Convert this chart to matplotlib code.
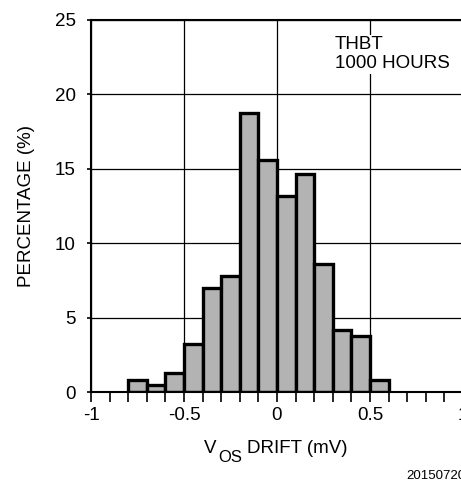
import matplotlib
matplotlib.use("Agg")
import matplotlib.pyplot as plt
import numpy as np

plt.rcParams['font.family'] = ['Liberation Sans', 'DejaVu Sans']

# Histogram bins (mV) and percentages
bin_left = [-0.8, -0.7, -0.6, -0.5, -0.4, -0.3, -0.2, -0.1, 0.0, 0.1, 0.2, 0.3, 0.4, 0.5]
percent = [0.83, 0.5, 1.28, 3.25, 7.02, 7.8, 18.76, 15.56, 13.18, 14.68, 8.59, 4.19, 3.74, 0.83]
bin_width = 0.1

x_ticks = [-1, -0.5, 0, 0.5, 1]
x_tick_labels = ['-1', '-0.5', '0', '0.5', '1']
y_ticks = [0, 5, 10, 15, 20, 25]

W, H = 461, 494
fig = plt.figure(figsize=(W / 100, H / 100), dpi=100)
ax = fig.add_axes([91 / W, 1 - 392 / H, 372 / W, 372 / H])

ax.bar(bin_left, percent, width=bin_width, align='edge',
       color='#b3b3b3', edgecolor='black', linewidth=2.4, zorder=3)

ax.set_xlim(-1, 1)
ax.set_ylim(0, 25)
ax.set_xticks(x_ticks)
ax.set_xticklabels(x_tick_labels)
ax.set_xticks(np.arange(-1, 1.01, 0.1), minor=True)
ax.set_yticks(y_ticks)

ax.grid(True, which='major', color='black', linewidth=0.9, zorder=1)
for s in ax.spines.values():
    s.set_linewidth(1.5)
    s.set_zorder(4)

ax.tick_params(axis='x', which='both', direction='out', length=7, width=1.2,
               labelsize=13.5, pad=4)
ax.tick_params(axis='y', direction='out', length=3, width=1.2,
               labelsize=13.5, pad=8)

ax.set_ylabel('PERCENTAGE (%)', fontsize=13.5, labelpad=14)

# x label with a near full-size, lowered "OS" subscript
fs = 13.5
fig.text(204 / W, 1 - 453 / H, 'V', fontsize=fs, ha='left', va='baseline')
fig.text(218 / W, 1 - 462 / H, 'OS', fontsize=12, ha='left', va='baseline')
fig.text(247 / W, 1 - 453 / H, 'DRIFT (mV)', fontsize=fs, ha='left', va='baseline')

ax.text(0.31, 23.9, 'THBT\n1000 HOURS', fontsize=13.5, ha='left', va='top',
        linespacing=1.15, zorder=5,
        bbox=dict(facecolor='white', edgecolor='none', pad=1))

fig.text(406 / W, 1 - 476 / H, '20150720', fontsize=9.5, ha='left', va='center')

fig.savefig('out.png', dpi=100)
